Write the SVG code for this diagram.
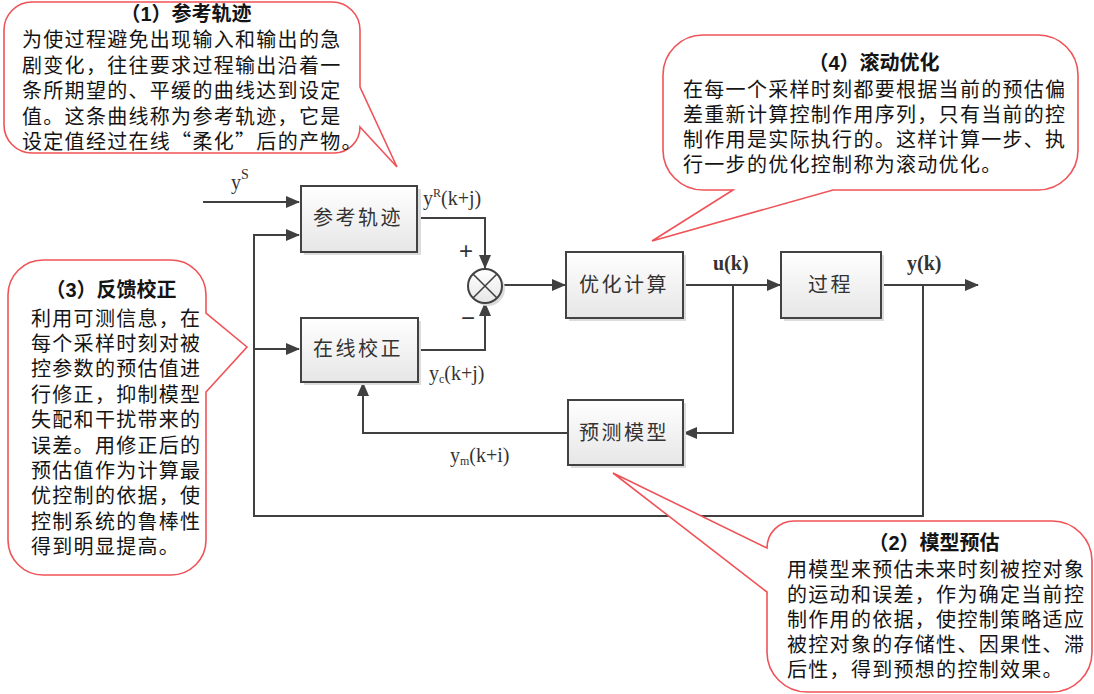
<svg xmlns="http://www.w3.org/2000/svg" width="1094" height="694" viewBox="0 0 1094 694">
<style>
.callout{fill:#ffffff;stroke:#ef5358;stroke-width:1.6;stroke-linejoin:miter}
.ct{font-family:"Liberation Sans","Noto Sans CJK SC",sans-serif;font-size:20px;letter-spacing:1.3px;fill:#141414}
.cjkq{font-family:"Noto Sans CJK SC",sans-serif}
.title{font-family:"Liberation Sans","Noto Sans CJK SC",sans-serif;font-size:20px;font-weight:bold;fill:#141414;text-anchor:middle}
.box{fill:url(#boxg);stroke:#424242;stroke-width:2}
.shadow{fill:#dcdcdc}
.nt{font-family:"Liberation Sans","Noto Sans CJK SC",sans-serif;font-size:20px;letter-spacing:2.5px;fill:#333333}
.math{font-family:"Liberation Serif",serif;font-size:20px;fill:#333333}
.sign{font-family:"Liberation Sans",sans-serif;font-size:24px;fill:#333333;text-anchor:middle}
.conn{fill:none;stroke:#404040;stroke-width:2}
</style>
<defs>
<linearGradient id="boxg" x1="0" y1="0" x2="0" y2="1">
<stop offset="0" stop-color="#ffffff"/>
<stop offset="1" stop-color="#e6e6e6"/>
</linearGradient>
<marker id="arr" markerUnits="userSpaceOnUse" markerWidth="14" markerHeight="12" refX="13" refY="6" orient="auto">
<path d="M0,0 L14,6 L0,12 Z" fill="#404040"/>
</marker>
</defs>
<rect width="1094" height="694" fill="#ffffff"/>

<g id="connectors">
<path class="conn" d="M203,202 H299" marker-end="url(#arr)"/>
<path class="conn" d="M923,285 V516 H254 V235 H299" marker-end="url(#arr)"/>
<path class="conn" d="M254,349 H299" marker-end="url(#arr)"/>
<path class="conn" d="M417,218 H485 V268" marker-end="url(#arr)"/>
<path class="conn" d="M418,350 H485 V303" marker-end="url(#arr)"/>
<path class="conn" d="M502,285 H565" marker-end="url(#arr)"/>
<path class="conn" d="M683,285 H780" marker-end="url(#arr)"/>
<path class="conn" d="M881,285 H978" marker-end="url(#arr)"/>
<path class="conn" d="M733,285 V433 H684" marker-end="url(#arr)"/>
<path class="conn" d="M568,433 H363 V383" marker-end="url(#arr)"/>
</g>

<g id="node-ref">
<rect class="shadow" x="304" y="189" width="117" height="66"/>
<rect class="box" x="301" y="186" width="116" height="66"/>
<text class="nt" x="313" y="225">参考轨迹</text>
</g>
<g id="node-correct">
<rect class="shadow" x="304" y="321" width="117" height="64"/>
<rect class="box" x="301" y="318" width="117" height="64"/>
<text class="nt" x="313" y="356">在线校正</text>
</g>
<g id="node-sum">
<circle cx="488" cy="289" r="17" fill="#dcdcdc"/>
<circle cx="485" cy="286" r="17" fill="url(#boxg)" stroke="#424242" stroke-width="2"/>
<path d="M473,274 L497,298 M497,274 L473,298" stroke="#424242" stroke-width="1.6"/>
</g>
<g id="node-opt">
<rect class="shadow" x="569" y="255" width="117" height="66"/>
<rect class="box" x="566" y="252" width="117" height="66"/>
<text class="nt" x="579" y="292">优化计算</text>
</g>
<g id="node-process">
<rect class="shadow" x="784" y="255" width="100" height="66"/>
<rect class="box" x="781" y="252" width="100" height="66"/>
<text class="nt" x="808" y="292">过程</text>
</g>
<g id="node-model">
<rect class="shadow" x="571" y="403" width="115" height="65"/>
<rect class="box" x="568" y="400" width="115" height="65"/>
<text class="nt" x="579" y="440">预测模型</text>
</g>

<g id="labels">
<text class="math" x="231" y="189" font-size="21">y<tspan dy="-10" font-size="14">S</tspan></text>
<text class="math" x="423" y="205">y<tspan dy="-8" font-size="12">R</tspan><tspan dy="8">(k+j)</tspan></text>
<text class="sign" x="466" y="259">+</text>
<text class="sign" x="468" y="326">−</text>
<text class="math" x="429" y="380">y<tspan dy="3" font-size="12">c</tspan><tspan dy="-3">(k+j)</tspan></text>
<text class="math" x="450" y="462">y<tspan dy="3" font-size="12">m</tspan><tspan dy="-3">(k+i)</tspan></text>
<text class="math" x="713" y="270" font-weight="bold">u(k)</text>
<text class="math" x="907" y="270" font-weight="bold">y(k)</text>
</g>

<g id="callout-1">
<path class="callout" d="M32,2 H332 A28,28 0 0 1 360,30 V87 L397,167 L360,127 A26,26 0 0 1 334,153 H32 A28,28 0 0 1 4,125 V30 A28,28 0 0 1 32,2 Z"/>
<text class="title" x="186" y="21">（1）参考轨迹</text>
<text class="ct" x="22" y="47">为使过程避免出现输入和输出的急</text>
<text class="ct" x="22" y="72.5">剧变化，往往要求过程输出沿着一</text>
<text class="ct" x="22" y="98">条所期望的、平缓的曲线达到设定</text>
<text class="ct" x="22" y="123.5">值。这条曲线称为参考轨迹，它是</text>
<text class="ct" x="22" y="149">设定值经过在线<tspan class="cjkq">“</tspan>柔化<tspan class="cjkq">”</tspan>后的产物。</text>
</g>

<g id="callout-4">
<path class="callout" d="M703,35 H1038 A40,40 0 0 1 1078,75 V150 A40,40 0 0 1 1038,190 H833 L652,241 L733,190 H703 A40,40 0 0 1 663,150 V75 A40,40 0 0 1 703,35 Z"/>
<text class="title" x="874" y="70">（4）滚动优化</text>
<text class="ct" x="683" y="97">在每一个采样时刻都要根据当前的预估偏</text>
<text class="ct" x="683" y="122">差重新计算控制作用序列，只有当前的控</text>
<text class="ct" x="683" y="147">制作用是实际执行的。这样计算一步、执</text>
<text class="ct" x="683" y="172">行一步的优化控制称为滚动优化。</text>
</g>

<g id="callout-3">
<path class="callout" d="M43,260 H171 A35,35 0 0 1 206,295 V313 L247,347 L206,392 V540 A35,35 0 0 1 171,575 H43 A35,35 0 0 1 8,540 V295 A35,35 0 0 1 43,260 Z"/>
<text class="title" x="111" y="297">（3）反馈校正</text>
<text class="ct" x="31" y="325.5">利用可测信息，在</text>
<text class="ct" x="31" y="350.9">每个采样时刻对被</text>
<text class="ct" x="31" y="376.3">控参数的预估值进</text>
<text class="ct" x="31" y="401.7">行修正，抑制模型</text>
<text class="ct" x="31" y="427.1">失配和干扰带来的</text>
<text class="ct" x="31" y="452.5">误差。用修正后的</text>
<text class="ct" x="31" y="477.9">预估值作为计算最</text>
<text class="ct" x="31" y="503.3">优控制的依据，使</text>
<text class="ct" x="31" y="528.7">控制系统的鲁棒性</text>
<text class="ct" x="31" y="554.1">得到明显提高。</text>
</g>

<g id="callout-2">
<path class="callout" d="M794,521 H1052 A40,40 0 0 1 1092,561 V652 A40,40 0 0 1 1052,692 H807 A40,40 0 0 1 767,652 V592 L613,473 L767,548 A27,27 0 0 1 794,521 Z"/>
<text class="title" x="934" y="550">（2）模型预估</text>
<text class="ct" x="787" y="577">用模型来预估未来时刻被控对象</text>
<text class="ct" x="787" y="602">的运动和误差，作为确定当前控</text>
<text class="ct" x="787" y="627">制作用的依据，使控制策略适应</text>
<text class="ct" x="787" y="652">被控对象的存储性、因果性、滞</text>
<text class="ct" x="787" y="677">后性，得到预想的控制效果。</text>
</g>
</svg>
